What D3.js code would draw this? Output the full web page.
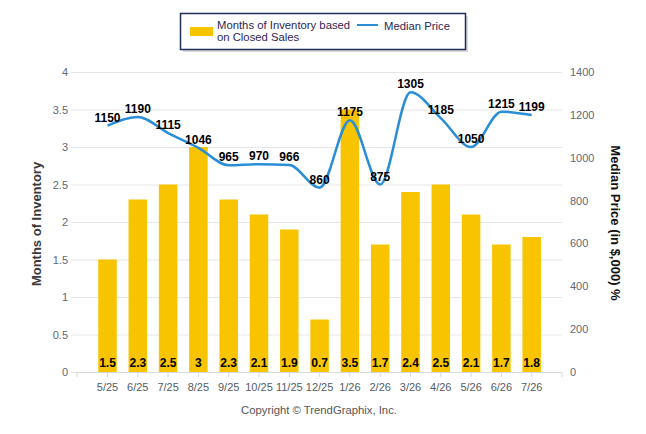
<!DOCTYPE html>
<html><head><meta charset="utf-8">
<script src="https://cdn.jsdelivr.net/npm/d3@7"></script>
<style>body{margin:0;background:#fff;}svg{display:block;font-family:"Liberation Sans",Arial,sans-serif;}</style>
</head><body><svg id="c" width="646" height="434"></svg>
<script>
const categories = ["5/25","6/25","7/25","8/25","9/25","10/25","11/25","12/25","1/26","2/26","3/26","4/26","5/26","6/26","7/26"];
const inventory = [1.5,2.3,2.5,3,2.3,2.1,1.9,0.7,3.5,1.7,2.4,2.5,2.1,1.7,1.8];
const medianPrice = [1150,1190,1115,1046,965,970,966,860,1175,875,1305,1185,1050,1215,1199];
const leftTicks = [0,0.5,1,1.5,2,2.5,3,3.5,4];
const rightTicks = [0,200,400,600,800,1000,1200,1400];

const svg = d3.select("#c");
const pTop = 72, pBottom = 372, pLeft = 77, pRight = 562;
const x = d3.scalePoint().domain(categories).range([107.5, 531.7]);
const yL = d3.scaleLinear().domain([0,4]).range([pBottom, pTop]);
const yR = d3.scaleLinear().domain([0,1400]).range([pBottom, pTop]);

// gridlines
svg.append("g").selectAll("line").data(leftTicks).join("line")
  .attr("x1", 71).attr("x2", pRight).attr("y1", d=>yL(d)+0.5).attr("y2", d=>yL(d)+0.5)
  .attr("stroke", "#e6e6e6").attr("stroke-width",1);

// left axis labels
svg.append("g").selectAll("text").data(leftTicks).join("text")
  .attr("x", 68).attr("y", d=>yL(d)+4).attr("text-anchor","end")
  .attr("font-size", 11).attr("fill","#606875").text(d=>d);
// right axis labels
svg.append("g").selectAll("text").data(rightTicks).join("text")
  .attr("x", 570).attr("y", d=>yR(d)+4).attr("text-anchor","start")
  .attr("font-size", 11).attr("fill","#606875").text(d=>d);

// bars
const bw = 18.5;
svg.append("g").selectAll("rect").data(inventory).join("rect")
  .attr("x", (d,i)=>x(categories[i])-bw/2).attr("width", bw)
  .attr("y", d=>yL(d)).attr("height", d=>pBottom-yL(d))
  .attr("fill", "#f8c400");

// x axis line and ticks
svg.append("line").attr("x1", pLeft).attr("x2", pRight).attr("y1", pBottom+0.5).attr("y2", pBottom+0.5)
  .attr("stroke","#d8d8e0");
svg.append("g").selectAll("line").data([pLeft].concat(categories.map(c=>x(c))).concat([pRight])).join("line")
  .attr("x1", d=>d).attr("x2", d=>d).attr("y1", pBottom).attr("y2", pBottom+5)
  .attr("stroke","#d8d8e0");
svg.append("g").selectAll("text").data(categories).join("text")
  .attr("x", d=>x(d)).attr("y", 391).attr("text-anchor","middle")
  .attr("font-size", 11).attr("fill","#555c66").text(d=>d);

// bar labels
svg.append("g").selectAll("text").data(inventory).join("text")
  .attr("x", (d,i)=>x(categories[i])).attr("y", 367).attr("text-anchor","middle")
  .attr("font-size", 12).attr("font-weight","bold").attr("fill","#000").text(d=>d);

// line
const line = d3.line().x((d,i)=>x(categories[i])).y(d=>yR(d)).curve(d3.curveMonotoneX);
svg.append("path").datum(medianPrice).attr("d", line)
  .attr("fill","none").attr("stroke","#2a8ed6").attr("stroke-width",2.5);

// line labels
svg.append("g").selectAll("text").data(medianPrice).join("text")
  .attr("x", (d,i)=>x(categories[i])).attr("y", d=>yR(d)-4).attr("text-anchor","middle")
  .attr("font-size", 12).attr("font-weight","bold").attr("fill","#000")
  .text(d=>d);

// axis titles
svg.append("text").attr("transform","translate(41,224) rotate(-90)")
  .attr("text-anchor","middle").attr("font-size",13).attr("font-weight","bold").attr("fill","#3a3a3a")
  .text("Months of Inventory");
svg.append("text").attr("transform","translate(611,223) rotate(90)")
  .attr("text-anchor","middle").attr("font-size",13).attr("font-weight","bold").attr("fill","#111")
  .text("Median Price (in $,000) %");

// legend
const lg = svg.append("g");
lg.append("rect").attr("x",183).attr("y",16).attr("width",285).attr("height",36).attr("fill","#999").attr("opacity",0.35);
lg.append("rect").attr("x",180.5).attr("y",13.5).attr("width",285).attr("height",36).attr("fill","#fff")
  .attr("stroke","#1f2d58").attr("stroke-width",1.5);
lg.append("rect").attr("x",190).attr("y",27).attr("width",23).attr("height",9).attr("fill","#f8c400");
lg.append("text").attr("x",217).attr("y",29).attr("font-size",11.3).attr("fill","#2e1f55").text("Months of Inventory based");
lg.append("text").attr("x",217).attr("y",41).attr("font-size",11.3).attr("fill","#2e1f55").text("on Closed Sales");
lg.append("line").attr("x1",357).attr("x2",378).attr("y1",25).attr("y2",25).attr("stroke","#2a8ed6").attr("stroke-width",2);
lg.append("text").attr("x",384).attr("y",30).attr("font-size",11.3).attr("fill","#2e1f55").text("Median Price");

// copyright
svg.append("text").attr("x",319).attr("y",414).attr("text-anchor","middle").attr("font-size",11.3).attr("fill","#555")
  .text("Copyright \u00A9 TrendGraphix, Inc.");
</script></body></html>
